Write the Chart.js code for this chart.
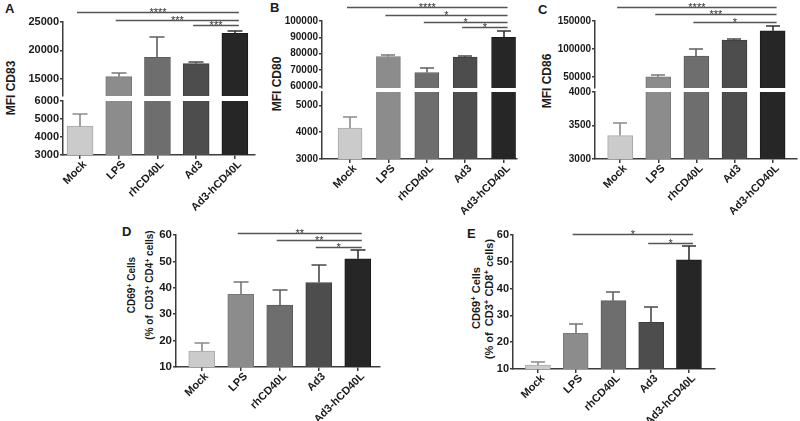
<!DOCTYPE html>
<html>
<head>
<meta charset="utf-8">
<script src="https://cdn.jsdelivr.net/npm/chart.js@4.4.0/dist/chart.umd.min.js"></script>
<style>
  body { margin: 0; background: #fff; }
  #fig { position: relative; width: 800px; height: 421px; overflow: hidden;
         font-family: "Liberation Sans", Arial, sans-serif; }
  #fig canvas { position: absolute; }
  .lbl { position: absolute; font-weight: bold; color: #1a1a1a; white-space: nowrap; line-height: 1; }
  .rot { transform: translate(-50%, -50%) rotate(-90deg); }
  sup { font-size: 0.7em; vertical-align: 0.45em; line-height: 0; }
</style>
</head>
<body>
<div id="fig">
  <div class="lbl" style="left:5px;top:2px;font-size:13px">A</div>
  <div class="lbl" style="left:270px;top:1px;font-size:13px">B</div>
  <div class="lbl" style="left:538px;top:3px;font-size:13px">C</div>
  <div class="lbl" style="left:122px;top:225px;font-size:13px">D</div>
  <div class="lbl" style="left:467px;top:227px;font-size:13px">E</div>

  <div class="lbl rot" style="left:11px;top:88px;font-size:12px">MFI CD83</div>
  <div class="lbl rot" style="left:277px;top:84px;font-size:12px">MFI CD80</div>
  <div class="lbl rot" style="left:547px;top:81px;font-size:12px">MFI CD86</div>

  <div class="lbl rot" style="left:132px;top:285px;font-size:10px">CD69<sup>+</sup> Cells</div>
  <div class="lbl rot" style="left:150px;top:285px;font-size:10px">(% of&nbsp; CD3<sup>+</sup> CD4<sup>+</sup> cells)</div>
  <div class="lbl rot" style="left:476px;top:298px;font-size:11px">CD69<sup>+</sup> Cells</div>
  <div class="lbl rot" style="left:489px;top:299px;font-size:11px">(% of&nbsp; CD3<sup>+</sup> CD8<sup>+</sup> cells)</div>
</div>
<script>
// ---- data ----
const categories = ['Mock', 'LPS', 'rhCD40L', 'Ad3', 'Ad3-hCD40L'];

const cd83Mean = [4600, 15400, 18800, 17700, 23000];
const cd83Sem = [700, 600, 3600, 250, 450];
const cd83TicksTop = [15000, 20000, 25000];
const cd83TicksBottom = [3000, 4000, 5000, 6000];
const cd83Sig = [[0, 4, '****', 26800], [1, 4, '***', 25350], [3, 4, '***', 24500]];

const cd80Mean = [4150, 78300, 68500, 77900, 90000];
const cd80Sem = [410, 1000, 2700, 800, 4000];
const cd80TicksTop = [60000, 70000, 80000, 90000, 100000];
const cd80TicksBottom = [3000, 4000, 5000];
const cd80Sig = [[0, 4, '****', 108300], [1, 4, '*', 103650], [2, 4, '*', 99600], [3, 4, '*', 96200]];

const cd86Mean = [3350, 50000, 87000, 115800, 132500];
const cd86Sem = [190, 2800, 12600, 2400, 8500];
const cd86TicksTop = [50000, 100000, 150000];
const cd86TicksBottom = [3000, 3500, 4000];
const cd86Sig = [[0, 4, '****', 175700], [1, 4, '***', 162600], [2, 4, '*', 148700]];

const cd4Mean = [16, 37.5, 33.5, 42, 51];
const cd4Sem = [3, 4.7, 5.8, 6.8, 3.3];
const cd8Mean = [11.5, 23.3, 35.5, 27.4, 50.7];
const cd8Sem = [1.1, 3.5, 3.4, 5.6, 5.2];
const pctTicks = [10, 20, 30, 40, 50, 60];
const cd4Sig = [[1, 4, '**', 60.9], [2, 4, '**', 58.2], [3, 4, '*', 55.4]];
const cd8Sig = [[1, 4, '*', 60.3], [3, 4, '*', 56.9]];

// ---- styles ----
const FONT = '"Liberation Sans", Arial, sans-serif';
const barColors = ['#cbcbcb', '#8c8c8c', '#6e6e6e', '#4d4d4d', '#262626'];
const borderColors = ['#a8a8a8', '#787878', '#5c5c5c', '#3e3e3e', '#1a1a1a'];
const errColors = ['#8a8a8a', '#777777', '#5f5f5f', '#4a4a4a', '#333333'];
const axisColor = '#3c3c3c';
const YW = 50, PL = 2, PR = 3, XH = 64;

function errorBarPlugin(mean, sem, capW) {
  return {
    id: 'errorBars',
    afterDatasetsDraw(chart) {
      const { ctx, chartArea: a, scales: { x, y } } = chart;
      ctx.save();
      ctx.beginPath();
      ctx.rect(a.left, a.top - 1, a.right - a.left, a.bottom - a.top + 1);
      ctx.clip();
      ctx.lineWidth = 1.6;
      mean.forEach((m, i) => {
        const xc = Math.round(x.getPixelForValue(i));
        const y0 = y.getPixelForValue(m);
        const y1 = Math.round(y.getPixelForValue(m + sem[i]));
        ctx.strokeStyle = errColors[i];
        ctx.beginPath();
        ctx.moveTo(xc, y0);
        ctx.lineTo(xc, y1);
        ctx.moveTo(xc - capW / 2, y1);
        ctx.lineTo(xc + capW / 2, y1);
        ctx.stroke();
      });
      ctx.restore();
    }
  };
}

function sigPlugin(items) {
  return {
    id: 'sigBars',
    afterDraw(chart) {
      if (!items) return;
      const { ctx, scales: { x, y } } = chart;
      ctx.save();
      ctx.strokeStyle = '#555';
      ctx.lineWidth = 1.3;
      ctx.fillStyle = '#333';
      ctx.font = '11px ' + FONT;
      ctx.textAlign = 'center';
      ctx.textBaseline = 'alphabetic';
      items.forEach(([from, to, label, v]) => {
        const x0 = x.getPixelForValue(from) - 3;
        const x1 = x.getPixelForValue(to) + 4;
        const yy = Math.round(y.getPixelForValue(v)) + 0.5;
        ctx.beginPath();
        ctx.moveTo(x0, yy);
        ctx.lineTo(x1, yy);
        ctx.stroke();
        ctx.fillText(label, (x0 + x1) / 2, yy + 3);
      });
      ctx.restore();
    }
  };
}

// p: panel (horizontal layout + data), part: one y segment
function addChart(p, part) {
  const padB = part.showX ? 0 : 8;
  const left = p.l - YW - PL;
  const top = part.t - part.padT;
  const w = p.r + PR - left;
  const h = part.b - top + (part.showX ? XH : padB);
  const canvas = document.createElement('canvas');
  canvas.width = w;
  canvas.height = h;
  canvas.style.left = left + 'px';
  canvas.style.top = top + 'px';
  document.getElementById('fig').appendChild(canvas);

  new Chart(canvas, {
    type: 'bar',
    data: {
      datasets: [{
        data: p.mean.map((v, i) => ({ x: i, y: v })),
        backgroundColor: barColors,
        borderColor: borderColors,
        borderWidth: 1,
        borderSkipped: 'start',
        barThickness: p.barW,
        clip: 0
      }]
    },
    options: {
      responsive: false,
      animation: false,
      devicePixelRatio: 1,
      layout: { autoPadding: false, padding: { left: PL, right: PR, top: part.padT, bottom: padB } },
      plugins: { legend: { display: false }, tooltip: { enabled: false } },
      scales: {
        x: {
          type: 'linear',
          offset: false,
          min: p.xMin,
          max: p.xMax,
          display: !!part.showX,
          afterBuildTicks: s => { s.ticks = categories.map((c, i) => ({ value: i })); },
          afterFit: s => { s.height = part.showX ? XH : 0; s.paddingLeft = 0; s.paddingRight = 0; },
          grid: { offset: false, drawOnChartArea: false, tickLength: 4, color: axisColor, lineWidth: 1.5 },
          border: { color: axisColor, width: 1.5 },
          ticks: {
            autoSkip: false, minRotation: 45, maxRotation: 45, padding: -1, labelOffset: 5,
            color: '#1a1a1a', font: { family: FONT, size: 11, weight: 'bold' },
            callback: v => categories[v]
          }
        },
        y: {
          min: part.min,
          max: part.max,
          afterBuildTicks: s => { s.ticks = part.ticks.map(v => ({ value: v })); },
          afterFit: s => { s.width = YW; s.paddingTop = 0; s.paddingBottom = 0; },
          grid: { drawOnChartArea: false, tickLength: 3, color: axisColor, lineWidth: 1.5 },
          border: { color: axisColor, width: 1.5 },
          ticks: {
            padding: 1, color: '#1a1a1a',
            font: { family: FONT, size: p.fs, weight: 'bold' },
            callback: v => String(v)
          }
        }
      }
    },
    plugins: [errorBarPlugin(p.mean, p.sem, p.capW), sigPlugin(part.sig)]
  });
}

const panels = [
  { l: 63, r: 255, xMin: -0.44, xMax: 4.52, barW: 26, capW: 15, fs: 11, mean: cd83Mean, sem: cd83Sem,
    parts: [
      { t: 22, b: 96, padT: 22, min: 12000, max: 25000, ticks: cd83TicksTop, sig: cd83Sig },
      { t: 101, b: 155, padT: 8, min: 3000, max: 6000, ticks: cd83TicksBottom, showX: true }
    ] },
  { l: 322, r: 517, xMin: -0.73, xMax: 4.35, barW: 24, capW: 14, fs: 10, mean: cd80Mean, sem: cd80Sem,
    parts: [
      { t: 21, b: 88, padT: 21, min: 59000, max: 100000, ticks: cd80TicksTop, sig: cd80Sig },
      { t: 92, b: 159, padT: 8, min: 3000, max: 5500, ticks: cd80TicksBottom, showX: true }
    ] },
  { l: 595, r: 797, xMin: -0.66, xMax: 4.64, barW: 25, capW: 14, fs: 10, mean: cd86Mean, sem: cd86Sem,
    parts: [
      { t: 21, b: 88, padT: 21, min: 30000, max: 150000, ticks: cd86TicksTop, sig: cd86Sig },
      { t: 92, b: 159, padT: 8, min: 3000, max: 4000, ticks: cd86TicksBottom, showX: true }
    ] },
  { l: 176, r: 380, xMin: -0.66, xMax: 4.57, barW: 26, capW: 15, fs: 11.5, mean: cd4Mean, sem: cd4Sem,
    parts: [
      { t: 235, b: 367, padT: 20, min: 10, max: 60, ticks: pctTicks, sig: cd4Sig, showX: true }
    ] },
  { l: 513, r: 715, xMin: -0.66, xMax: 4.69, barW: 25, capW: 14, fs: 11, mean: cd8Mean, sem: cd8Sem,
    parts: [
      { t: 235, b: 369, padT: 20, min: 10, max: 60, ticks: pctTicks, sig: cd8Sig, showX: true }
    ] }
];

panels.forEach(p => p.parts.forEach(part => addChart(p, part)));
</script>
</body>
</html>
